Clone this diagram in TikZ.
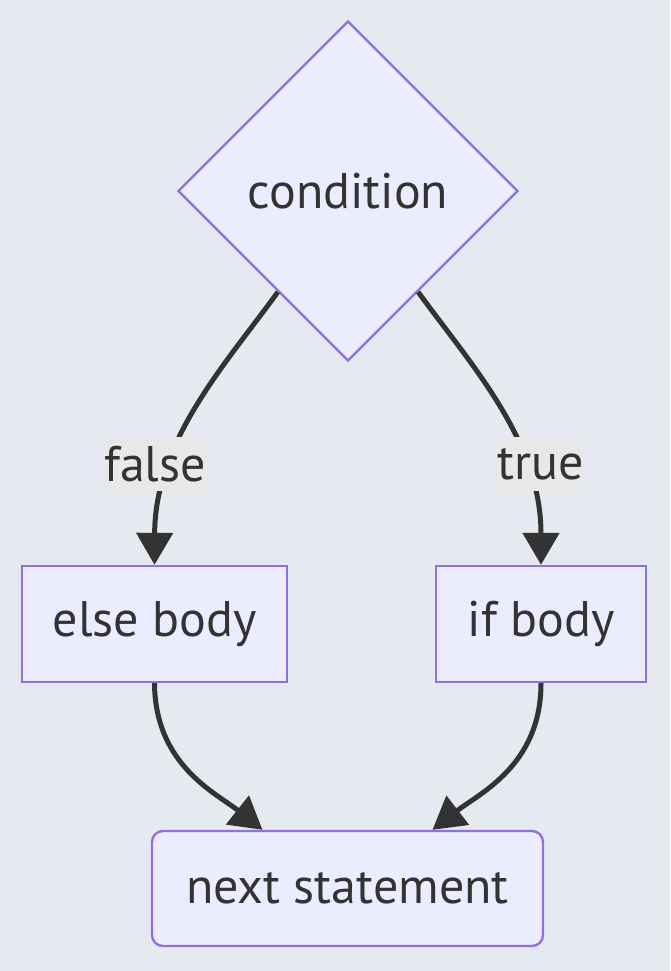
\documentclass[tikz,border=0pt]{standalone}
\usepackage{fontspec}
\setmainfont{PT Sans}
\usetikzlibrary{shapes.geometric,arrows.meta,calc}
\definecolor{bg}{HTML}{E5E9F0}
\definecolor{nodefill}{HTML}{ECECFF}
\definecolor{nodeline}{HTML}{9370DB}
\definecolor{ink}{HTML}{333333}
\definecolor{lblbg}{HTML}{E8E8E8}
\begin{document}
\begin{tikzpicture}[x=1pt,y=-1pt,
  box/.style={draw=nodeline, fill=nodefill, line width=2.4pt, text=ink,
    font=\fontsize{50}{58}\selectfont, inner sep=0pt},
  lbl/.style={fill=lblbg, text=ink, font=\fontsize{50}{58}\selectfont,
    inner xsep=2pt, inner ysep=0pt, minimum height=54pt},
  edge/.style={draw=ink, line width=5pt, -{Triangle[length=32pt,width=36pt]}}]
\fill[bg] (0,0) rectangle (670,971);
\useasboundingbox (0,0) rectangle (670,971);
\node[box, diamond, aspect=1, minimum width=340pt, minimum height=340pt] (cond) at (348,191) {condition};
\node[box, minimum width=265pt, minimum height=116pt] (else) at (154.5,624) {else body};
\node[box, minimum width=210pt, minimum height=116pt] (if) at (541,624) {if body};
\node[box, rounded corners=11pt, minimum width=391pt, minimum height=115pt] (next) at (347.5,888.5) {next statement};
\draw[edge] ($(cond.south)!0.41!(cond.west)$) .. controls (225,365) and (155,440) .. (else.north);
\draw[edge] ($(cond.south)!0.41!(cond.east)$) .. controls (471,365) and (541,440) .. (if.north);
\draw[edge] (else.south) .. controls (155,765) and (216,793) .. ([xshift=-85pt]next.north);
\draw[edge] (if.south) .. controls (541,765) and (480,793) .. ([xshift=85pt]next.north);
\node[lbl] (lfalse) at (155,464) {false};
\node[lbl] (ltrue) at (541,464) {true};
\end{tikzpicture}
\end{document}
